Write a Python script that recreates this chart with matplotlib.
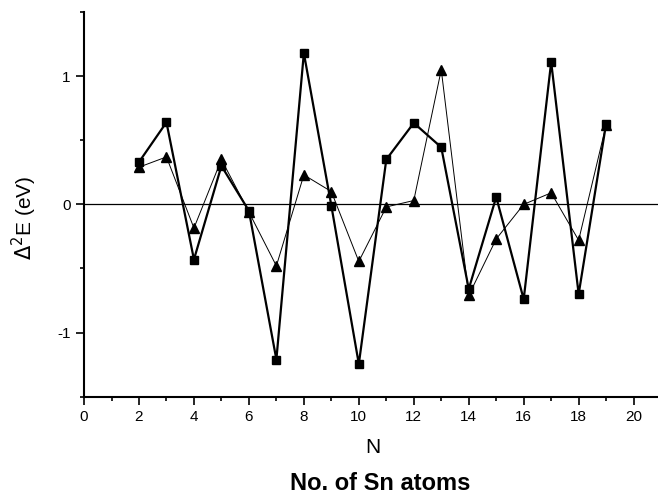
import matplotlib
matplotlib.use("Agg")
import matplotlib.pyplot as plt
from matplotlib.ticker import MultipleLocator

plt.rcParams['font.family'] = ['Liberation Sans', 'DejaVu Sans']

N = [2, 3, 4, 5, 6, 7, 8, 9, 10, 11, 12, 13, 14, 15, 16, 17, 18, 19]
squares = [0.33, 0.64, -0.43, 0.30, -0.05, -1.21, 1.18, -0.01, -1.245, 0.35,
           0.635, 0.445, -0.66, 0.057, -0.74, 1.11, -0.70, 0.63]
triangles = [0.29, 0.37, -0.185, 0.35, -0.06, -0.48, 0.23, 0.10, -0.445, -0.02,
             0.03, 1.05, -0.71, -0.27, 0.0, 0.09, -0.28, 0.62]
xticks = [0, 2, 4, 6, 8, 10, 12, 14, 16, 18, 20]
yticks = [-1, 0, 1]

fig = plt.figure(figsize=(6.58, 4.97), dpi=100)
ax = fig.add_axes([0.1277, 0.2018, 0.877, 0.774])

ax.axhline(0, color='black', lw=0.9, zorder=1)
ax.plot(N, triangles, color='black', lw=0.7, marker='^', markersize=6.5, zorder=3)
ax.plot(N, squares, color='black', lw=1.6, marker='s', markersize=5.5, zorder=4)

ax.set_xlim(0, 21)
ax.set_ylim(-1.5, 1.5)
ax.set_xticks(xticks)
ax.set_yticks(yticks)
ax.set_yticklabels([str(v) for v in yticks])
ax.xaxis.set_minor_locator(MultipleLocator(1))
ax.yaxis.set_minor_locator(MultipleLocator(0.5))
ax.tick_params(which='major', direction='out', length=6, width=1.2, labelsize=11)
ax.tick_params(which='minor', direction='out', length=3, width=1.2)
for s in ['top', 'right']:
    ax.spines[s].set_visible(False)
for s in ['left', 'bottom']:
    ax.spines[s].set_linewidth(1.5)

ax.set_xlabel('N', fontsize=15, labelpad=10)
ax.set_ylabel(r'$\Delta^2$E (eV)', fontsize=15)
ax.yaxis.set_label_coords(-0.078, 0.465)
fig.text(0.578, 0.028, 'No. of Sn atoms', ha='center', va='center',
         fontsize=17, fontweight='bold')

fig.savefig('out.png', dpi=100)
